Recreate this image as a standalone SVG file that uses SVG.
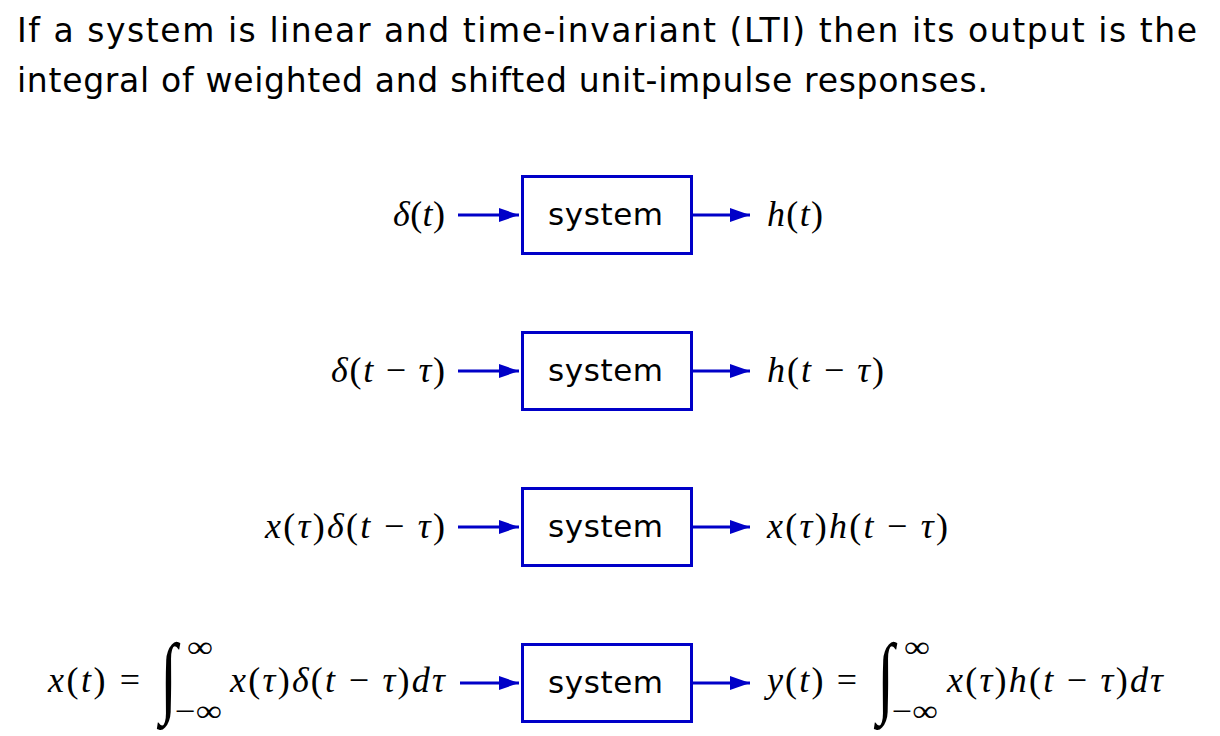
<svg xmlns="http://www.w3.org/2000/svg" width="1220" height="736" viewBox="0 0 1220 736">
<style>
.intro{font-family:"DejaVu Sans","Liberation Sans",sans-serif;font-size:33px;fill:#000}
.box{fill:#fff;stroke:#0000c8;stroke-width:3}
.lbl{font-family:"DejaVu Sans","Liberation Sans",sans-serif;font-size:31px;fill:#000}
.m{font-family:"Liberation Serif","DejaVu Serif",serif;font-style:italic;font-size:36px;fill:#000}
.up{font-style:normal}
.int{font-family:"Liberation Serif","DejaVu Serif",serif;font-size:62px;font-style:normal;fill:#000}
.sc{font-family:"Liberation Serif","DejaVu Serif",serif;font-size:30px;fill:#000}
.arr{stroke:#0000c8;stroke-width:3;fill:none;marker-end:url(#ah)}
</style>
<defs>
<marker id="ah" viewBox="0 0 20 14" markerWidth="20" markerHeight="14" refX="20" refY="7" orient="auto" markerUnits="userSpaceOnUse">
<path d="M0,0 L20,7 L0,14 Z" fill="#0000c8"/>
</marker>
</defs>
<text class="intro" x="17" y="42" textLength="1180" lengthAdjust="spacing">If a system is linear and time-invariant (LTI) then its output is the</text>
<text class="intro" x="17" y="92" textLength="971" lengthAdjust="spacing">integral of weighted and shifted unit-impulse responses.</text>

<g id="connectors">
<line class="arr" x1="458" y1="215" x2="519" y2="215"/>
<line class="arr" x1="693" y1="215" x2="750" y2="215"/>
<line class="arr" x1="458" y1="371" x2="519" y2="371"/>
<line class="arr" x1="693" y1="371" x2="750" y2="371"/>
<line class="arr" x1="458" y1="527" x2="519" y2="527"/>
<line class="arr" x1="693" y1="527" x2="750" y2="527"/>
<line class="arr" x1="460" y1="683" x2="519" y2="683"/>
<line class="arr" x1="693" y1="683" x2="750" y2="683"/>
</g>

<g id="sys1"><rect class="box" x="522.5" y="176.5" width="169" height="77"/><text class="lbl" x="548" y="225" textLength="115" lengthAdjust="spacing">system</text></g>
<g id="sys2"><rect class="box" x="522.5" y="332.5" width="169" height="77"/><text class="lbl" x="548" y="381" textLength="115" lengthAdjust="spacing">system</text></g>
<g id="sys3"><rect class="box" x="522.5" y="488.5" width="169" height="77"/><text class="lbl" x="548" y="537" textLength="115" lengthAdjust="spacing">system</text></g>
<g id="sys4"><rect class="box" x="522.5" y="644.5" width="169" height="77"/><text class="lbl" x="548" y="693" textLength="115" lengthAdjust="spacing">system</text></g>

<g id="in1"><text class="m" x="393" y="226" textLength="52" lengthAdjust="spacing">δ<tspan class="up">(</tspan>t<tspan class="up">)</tspan></text></g>
<g id="out1"><text class="m" x="767" y="226" textLength="56" lengthAdjust="spacing">h<tspan class="up">(</tspan>t<tspan class="up">)</tspan></text></g>
<g id="in2"><text class="m" x="331" y="382" textLength="114" lengthAdjust="spacing">δ<tspan class="up">(</tspan>t <tspan class="up">−</tspan> τ<tspan class="up">)</tspan></text></g>
<g id="out2"><text class="m" x="767" y="382" textLength="117" lengthAdjust="spacing">h<tspan class="up">(</tspan>t <tspan class="up">−</tspan> τ<tspan class="up">)</tspan></text></g>
<g id="in3"><text class="m" x="265" y="538" textLength="180" lengthAdjust="spacing">x<tspan class="up">(</tspan>τ<tspan class="up">)</tspan>δ<tspan class="up">(</tspan>t <tspan class="up">−</tspan> τ<tspan class="up">)</tspan></text></g>
<g id="out3"><text class="m" x="767" y="538" textLength="181" lengthAdjust="spacing">x<tspan class="up">(</tspan>τ<tspan class="up">)</tspan>h<tspan class="up">(</tspan>t <tspan class="up">−</tspan> τ<tspan class="up">)</tspan></text></g>

<g id="in4">
<text class="m" x="48" y="692" textLength="92" lengthAdjust="spacing">x<tspan class="up">(</tspan>t<tspan class="up">) =</tspan></text>
<text class="int" transform="translate(160,706) scale(1,1.45)">∫</text>
<text class="sc" x="187" y="657" textLength="26" lengthAdjust="spacingAndGlyphs">∞</text>
<text class="sc" x="175" y="721" textLength="47" lengthAdjust="spacingAndGlyphs">−∞</text>
<text class="m" x="230" y="692" textLength="215" lengthAdjust="spacing">x<tspan class="up">(</tspan>τ<tspan class="up">)</tspan>δ<tspan class="up">(</tspan>t <tspan class="up">−</tspan> τ<tspan class="up">)</tspan>dτ</text>
</g>
<g id="out4">
<text class="m" x="767" y="692" textLength="90" lengthAdjust="spacing">y<tspan class="up">(</tspan>t<tspan class="up">) =</tspan></text>
<text class="int" transform="translate(877,706) scale(1,1.45)">∫</text>
<text class="sc" x="904" y="657" textLength="26" lengthAdjust="spacingAndGlyphs">∞</text>
<text class="sc" x="892" y="721" textLength="46" lengthAdjust="spacingAndGlyphs">−∞</text>
<text class="m" x="947" y="692" textLength="216" lengthAdjust="spacing">x<tspan class="up">(</tspan>τ<tspan class="up">)</tspan>h<tspan class="up">(</tspan>t <tspan class="up">−</tspan> τ<tspan class="up">)</tspan>dτ</text>
</g>
</svg>
